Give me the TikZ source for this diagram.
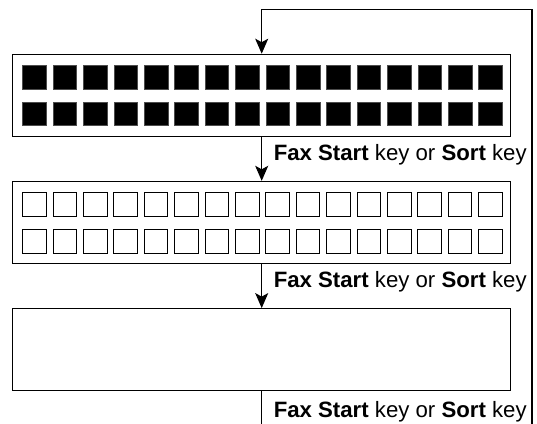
\documentclass[tikz,border=0pt]{standalone}
\usepackage{fontspec}
\setmainfont{Liberation Sans}
\usetikzlibrary{arrows.meta,positioning}

\begin{document}
\begin{tikzpicture}[x=1pt,y=-1pt,
  panel/.style={draw=black, line width=1.2pt, minimum width=498pt,
                minimum height=82pt, inner sep=0pt},
  keyon/.style={draw=black!70, fill=black, line width=0.6pt,
                minimum size=23.5pt, inner sep=0pt},
  keyoff/.style={draw=black, line width=1pt, minimum size=23.5pt, inner sep=0pt},
  lbl/.style={font=\fontsize{22.2}{26}\selectfont, anchor=base west,
              inner sep=0pt, xshift=11.5pt, yshift=-1.8pt},
  arr/.style={-{Stealth[length=15pt,width=13pt,inset=3.5pt]}, line width=1.1pt}
]
  \useasboundingbox (0,0) rectangle (537,423);

  \node[panel] (p1) at (261.7,95.3)  {};
  \node[panel] (p2) at (261.7,222.4) {};
  \node[panel] (p3) at (261.7,349.7) {};

  % key rows
  \foreach \i in {0,...,15}{
    \node[keyon]  (a\i) at (34.45+30.4*\i,77.3)  {};
    \node[keyon]  (b\i) at (34.45+30.4*\i,114)   {};
    \node[keyoff] (c\i) at (34.45+30.4*\i,204.7) {};
    \node[keyoff] (d\i) at (34.45+30.4*\i,241.3) {};
  }

  \coordinate (lo) at (261.7,440);
  \coordinate (hi) at (532,9.3);

  \draw[arr] (p1) -- node[lbl]{\textbf{Fax Start} key or \textbf{Sort} key} (p2);
  \draw[arr] (p2) -- node[lbl]{\textbf{Fax Start} key or \textbf{Sort} key} (p3);
  \draw[line width=1.1pt] (p3.south) -- node[lbl]{\textbf{Fax Start} key or \textbf{Sort} key} (lo);
  \draw[arr] (lo) -| (hi) -| (p1.north);
\end{tikzpicture}
\end{document}
